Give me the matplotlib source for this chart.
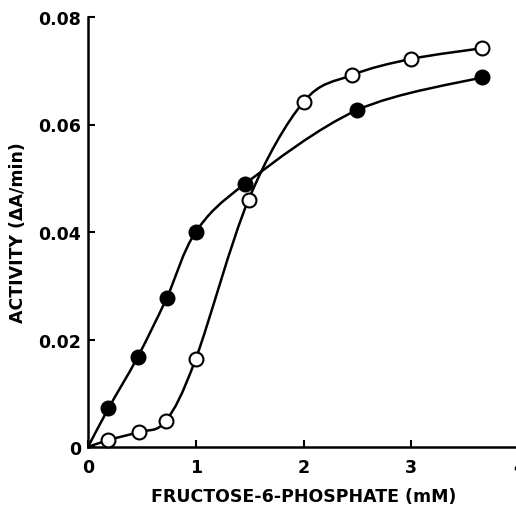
import numpy as np
import matplotlib
matplotlib.use("Agg")
import matplotlib.pyplot as plt
from matplotlib.path import Path
from matplotlib.patches import PathPatch

# filled circles
x_filled = [0.19, 0.46, 0.73, 1.0, 1.46, 2.5, 3.66]
y_filled = [0.0072, 0.0167, 0.0277, 0.0400, 0.0490, 0.0627, 0.0688]
# open circles
x_open = [0.19, 0.47, 0.72, 1.0, 1.49, 2.0, 2.45, 3.0, 3.66]
y_open = [0.0013, 0.0028, 0.0048, 0.0164, 0.0460, 0.0642, 0.0692, 0.0722, 0.0742]

xticks = [0, 1, 2, 3, 4]
xticklabels = ['0', '1', '2', '3', '4']
yticks = [0, 0.02, 0.04, 0.06, 0.08]
yticklabels = ['0', '0.02', '0.04', '0.06', '0.08']

plt.rcParams['font.family'] = ['DejaVu Sans']
plt.rcParams['font.weight'] = 'bold'


def smooth_path(xs, ys):
    # curve starts at the origin, drawn as catmull-rom bezier through the points
    p = np.column_stack([np.r_[0, xs], np.r_[0, ys]])
    pts = np.vstack([p[0], p, p[-1]])
    verts = [p[0]]
    codes = [Path.MOVETO]
    for i in range(1, len(pts) - 2):
        c1 = pts[i] + (pts[i + 1] - pts[i - 1]) / 6
        c2 = pts[i + 1] - (pts[i + 2] - pts[i]) / 6
        verts += [c1, c2, pts[i + 1]]
        codes += [Path.CURVE4] * 3
    return Path(verts, codes)


fig = plt.figure(figsize=(5.16, 5.06), dpi=100)
ax = fig.add_axes([88 / 516, 58 / 506, 431 / 516, 430 / 506])

for xs, ys in [(x_filled, y_filled), (x_open, y_open)]:
    ax.add_patch(PathPatch(smooth_path(xs, ys), fill=False, lw=1.8,
                           edgecolor='black', zorder=2))

ax.plot(x_filled, y_filled, 'o', ms=10, mfc='black', mec='black', mew=1.5,
        zorder=3, clip_on=False)
ax.plot(x_open, y_open, 'o', ms=10, mfc='white', mec='black', mew=1.5,
        zorder=3, clip_on=False)

ax.set_xlim(0, 4)
ax.set_ylim(0, 0.08)
ax.set_xticks(xticks)
ax.set_xticklabels(xticklabels)
ax.set_yticks(yticks)
ax.set_yticklabels(yticklabels)
ax.spines['top'].set_visible(False)
ax.spines['right'].set_visible(False)
for s in ['left', 'bottom']:
    ax.spines[s].set_linewidth(1.8)
ax.tick_params(direction='in', length=5, width=1.5, labelsize=12.5)
ax.tick_params(axis='x', pad=8)
ax.tick_params(axis='y', pad=5)

ax.set_xlabel('FRUCTOSE-6-PHOSPHATE (mM)', fontsize=12.5, fontweight='bold',
              labelpad=8)
ax.set_ylabel('ACTIVITY (ΔA/min)', fontsize=12.5, fontweight='bold',
              labelpad=8)

fig.savefig('out.png', dpi=100)
